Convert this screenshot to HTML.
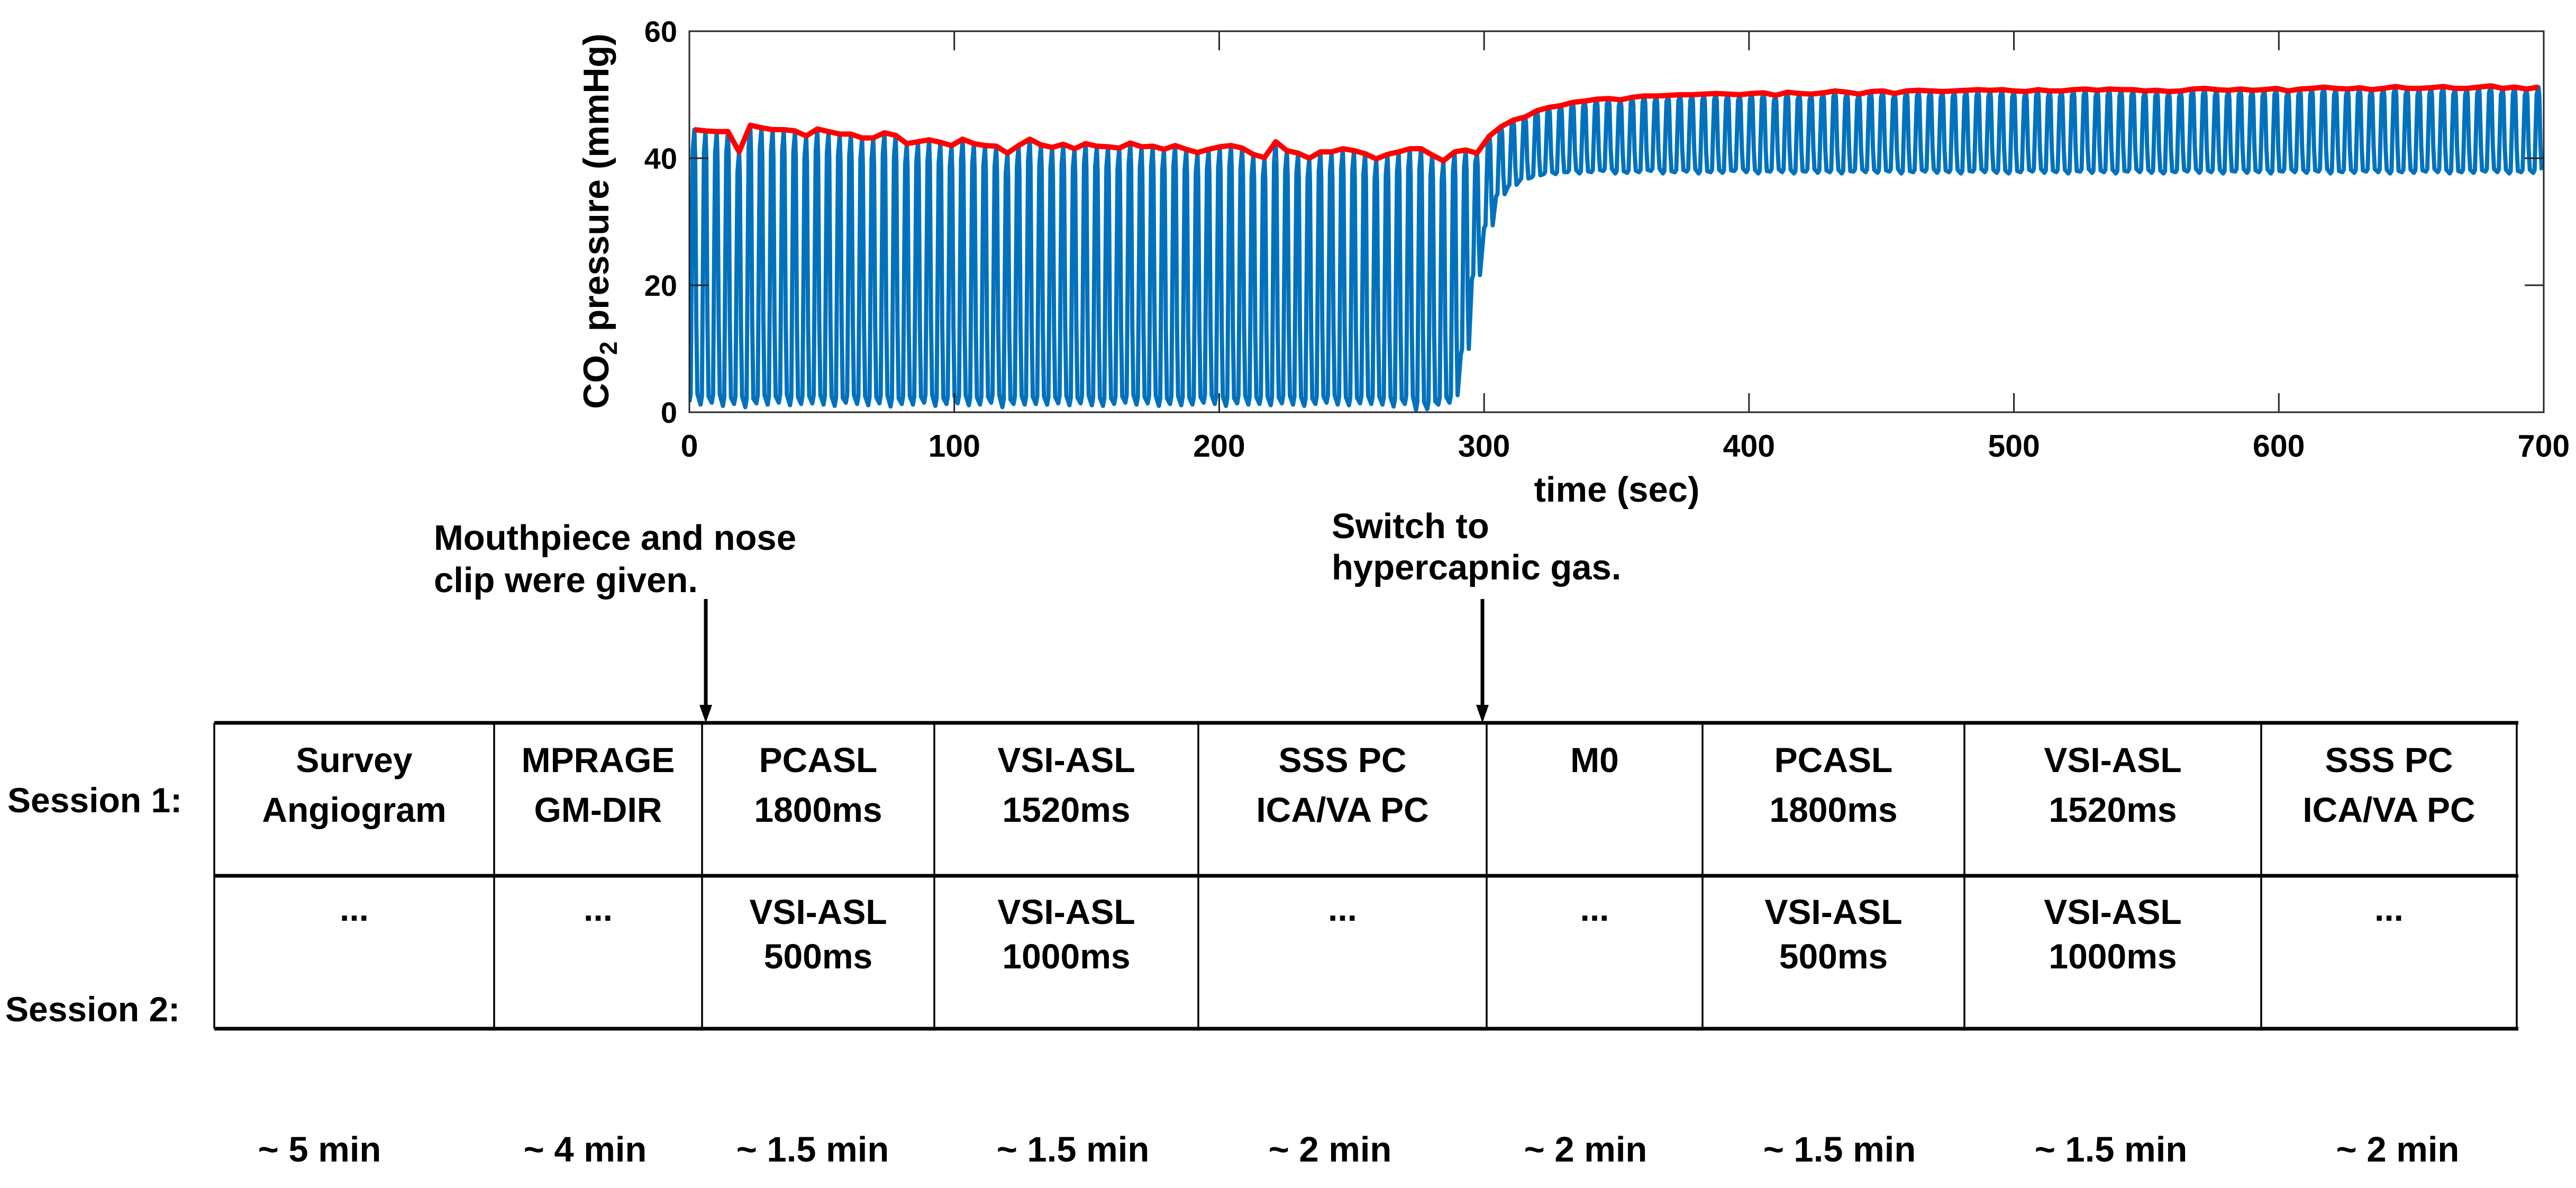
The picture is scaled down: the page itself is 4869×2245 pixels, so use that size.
<!DOCTYPE html>
<html><head><meta charset="utf-8"><style>
html,body{margin:0;padding:0;background:#fff}
svg{display:block}
text{font-family:"Liberation Sans",Arial,sans-serif;font-weight:bold;fill:#000}
</style></head><body>
<svg id="fig" width="4869" height="2245" viewBox="0 0 4869 2245" xmlns="http://www.w3.org/2000/svg">
<defs><clipPath id="pc"><rect x="1303" y="59" width="3505" height="720"/></clipPath></defs>
<g id="chart"></g>
<g id="annot">
  <text x="820" y="1039" font-size="67">Mouthpiece and nose</text>
  <text x="820" y="1119" font-size="67">clip were given.</text>
  <line x1="1334" y1="1132" x2="1334" y2="1335" stroke="#000" stroke-width="7"/>
  <polygon points="1322,1332 1346,1332 1334,1366" fill="#000"/>
  <text x="2517" y="1017" font-size="67">Switch to</text>
  <text x="2517" y="1095" font-size="67">hypercapnic gas.</text>
  <line x1="2802" y1="1132" x2="2802" y2="1335" stroke="#000" stroke-width="7"/>
  <polygon points="2790,1332 2814,1332 2802,1366" fill="#000"/>
</g>
<g id="table"></g>
</svg>
<script>
// ---- chart data ----
const xTicks = [0,100,200,300,400,500,600,700];
const yTicks = [0,20,40,60];
const prePeriod = 4.22;
const postPeriod = 4.5;
const switchTime = 300;
const switchIndex = 71;
const peaks = [44.5,44.3,44.2,44.2,41,45.2,44.8,44.5,44.5,44.3,43.5,44.6,44.2,43.8,43.8,43.2,43.2,44.0,43.6,42.3,42.6,42.9,42.5,42.0,43.0,42.3,42.0,41.9,40.8,42.0,43.0,42.1,41.7,42.2,41.5,42.3,41.9,41.8,41.6,42.4,41.8,41.9,41.4,42.0,41.4,40.9,41.4,41.8,42.0,41.6,40.6,40.1,42.6,41.2,40.8,40.0,41.0,41.0,41.5,41.2,40.7,39.9,40.6,41.0,41.5,41.5,40.5,39.6,41.0,41.3,40.8,
43.5,45,46,46.5,47.5,48,48.3,48.8,49,49.3,49.4,49.2,49.6,49.8,49.8,49.9,50.0,50.0,50.1,50.2,50.1,50.0,50.2,50.3,49.9,50.4,50.2,50.1,50.3,50.6,50.4,50.1,50.5,50.6,50.2,50.6,50.7,50.6,50.5,50.6,50.7,50.8,50.7,50.8,50.6,50.5,50.8,50.6,50.6,50.8,50.9,50.7,50.9,50.8,50.8,50.6,50.7,50.5,50.6,50.9,51.0,50.8,50.7,50.9,50.7,50.8,51.0,50.6,50.9,51.0,51.2,51.0,50.9,51.1,50.8,51.0,51.3,51.0,51.0,51.1,51.3,51.0,51.0,51.2,51.4,51.0,51.2,50.9,51.2];
const troughs = [1.6,1.2,1.5,1.0,1.3,0.8,1.4,1.2,1.5,1.1,1.3,1.4,1.2,1.0,1.5,1.3,1.1,1.4,0.9,1.3,1.2,1.5,1.0,1.3,1.4,1.1,1.2,1.5,0.8,1.3,1.2,1.3,1.2,1.4,1.1,1.4,1.1,1.0,1.3,1.5,1.2,1.4,1.0,1.3,1.1,1.2,1.5,1.3,1.0,1.4,1.2,1.3,1.1,1.4,1.2,1.0,1.3,1.5,1.2,1.1,1.4,1.3,1.2,0.9,1.3,0.4,0.5,1.2,1.5,9,21,
29,34,35.5,36.5,37,37.5,37.5,37.8,37.6,37.8,38,37.6,37.7,37.8,38,37.6,37.8,37.9,37.6,37.8,37.7,38,37.8,37.6,37.9,37.8,37.6,37.9,37.7,37.8,37.6,37.9,37.8,37.7,37.9,37.6,37.8,37.9,37.7,37.8,37.6,37.9,37.8,37.7,37.6,37.8,37.9,37.7,37.8,37.6,37.9,37.7,37.8,37.6,37.9,37.8,37.7,37.6,37.8,37.9,37.7,37.8,37.6,37.9,37.7,37.8,37.6,37.9,37.8,37.7,37.9,37.6,37.8,37.7,37.9,37.8,37.6,37.8,37.7,37.9,37.8,37.6,37.8,37.7,37.9,37.8,37.6,37.8,37.7];
// ---- table data ----
const colEdges = [405,934,1327,1766,2265,2810,3218,3713,4274,4757];
const session1 = [["Survey","Angiogram"],["MPRAGE","GM-DIR"],["PCASL","1800ms"],["VSI-ASL","1520ms"],["SSS PC","ICA/VA PC"],["M0"],["PCASL","1800ms"],["VSI-ASL","1520ms"],["SSS PC","ICA/VA PC"]];
const session2 = [["..."],["..."],["VSI-ASL","500ms"],["VSI-ASL","1000ms"],["..."],["..."],["VSI-ASL","500ms"],["VSI-ASL","1000ms"],["..."]];
const durations = ["~ 5 min","~ 4 min","~ 1.5 min","~ 1.5 min","~ 2 min","~ 2 min","~ 1.5 min","~ 1.5 min","~ 2 min"];
const durationX = [604,1106,1536,2028,2514,2997,3477,3990,4532];

const NS="http://www.w3.org/2000/svg";
function mk(tag, attrs, parent){const e=document.createElementNS(NS,tag);for(const k in attrs)e.setAttribute(k,attrs[k]);parent.appendChild(e);return e;}
const L=1303,R=4808,T=59,B=779;
const xs=v=>L+(v/700)*(R-L);
const ys=v=>B-(v/60)*(B-T);
const chart=document.getElementById('chart');
function breathStart(i){return i<switchIndex ? i*prePeriod : switchTime+(i-switchIndex)*postPeriod;}
function breathLen(i){return i<switchIndex ? prePeriod : postPeriod;}

// blue waveform
const n=Math.min(peaks.length,troughs.length);
let d=[];
for(let i=0;i<n;i++){
  const t0=breathStart(i), P=breathLen(i);
  const tr=troughs[i], pk=peaks[i];
  const pts=[[t0,tr],[t0+0.12*P,tr+0.03*(pk-tr)],[t0+0.22*P,tr+0.55*(pk-tr)],[t0+0.30*P,tr+0.92*(pk-tr)],[t0+0.45*P,pk],[t0+0.52*P,tr+0.9*(pk-tr)],[t0+0.62*P,tr+0.3*(pk-tr)],[t0+0.72*P,tr+0.03*(pk-tr)]];
  pts.forEach(p=>{ if(p[0]<=700) d.push((d.length?'L':'M')+xs(p[0]).toFixed(1)+','+ys(p[1]).toFixed(1)); });
}
const blue=mk('path',{d:d.join(''),fill:'none',stroke:'#0072BD','stroke-width':8,'stroke-linejoin':'round','clip-path':'url(#pc)'},chart);


// red envelope
let rd=[];
for(let i=0;i<n;i++){const t=breathStart(i)+0.45*breathLen(i); if(t<=700) rd.push((rd.length?'L':'M')+xs(t).toFixed(1)+','+ys(peaks[i]).toFixed(1));}
const red=mk('path',{d:rd.join(''),fill:'none',stroke:'#FF0000','stroke-width':10,'stroke-linejoin':'round','clip-path':'url(#pc)'},chart);


// axes box
const box=mk('rect',{x:L,y:T,width:R-L,height:B-T,fill:'none',stroke:'#262626','stroke-width':3},chart);


xTicks.forEach(v=>{
  const x=xs(v);
  mk('line',{x1:x,y1:B,x2:x,y2:B-36,stroke:'#262626','stroke-width':3},chart);
  mk('line',{x1:x,y1:T,x2:x,y2:T+36,stroke:'#262626','stroke-width':3},chart);
  const tl=mk('text',{x:x,y:863,'font-size':59,'text-anchor':'middle',fill:'#262626'},chart);
  tl.textContent=v;
  
  
});
yTicks.forEach(v=>{
  const y=ys(v);
  mk('line',{x1:L,y1:y,x2:L+36,y2:y,stroke:'#262626','stroke-width':3},chart);
  mk('line',{x1:R,y1:y,x2:R-36,y2:y,stroke:'#262626','stroke-width':3},chart);
  const tl=mk('text',{x:1280,y:y+20,'font-size':56,'text-anchor':'end',fill:'#262626'},chart);
  tl.textContent=v;
  
  
});
const xt=mk('text',{x:3056,y:948,'font-size':67,'text-anchor':'middle',fill:'#262626'},chart);
xt.textContent='time (sec)';


const yt=mk('text',{x:0,y:0,'font-size':68,'text-anchor':'middle',fill:'#262626',transform:'translate(1150,418) rotate(-90)'},chart);
yt.innerHTML='CO<tspan font-size="46" dy="16">2</tspan><tspan dy="-16"> pressure (mmHg)</tspan>';



// table
const tb=document.getElementById('table');
const TT=1366,TM=1655,TB=1944;
const grid=mk('g',{},tb);


mk('line',{x1:405,y1:TT,x2:4760,y2:TT,stroke:'#000','stroke-width':7},grid);
mk('line',{x1:405,y1:TM,x2:4760,y2:TM,stroke:'#000','stroke-width':7},grid);
mk('line',{x1:405,y1:TB,x2:4760,y2:TB,stroke:'#000','stroke-width':7},grid);
colEdges.forEach(x=>mk('line',{x1:x,y1:TT,x2:x,y2:TB,stroke:'#000','stroke-width':3.5},grid));
for(let i=0;i<session1.length;i++){
  const cx=(colEdges[i]+colEdges[i+1])/2;
  session1[i].forEach((s,j)=>{
    const t=mk('text',{x:cx,y:1459+j*94,'font-size':66,'text-anchor':'middle'},tb);
    t.textContent=s;
    
    
  });
  session2[i].forEach((s,j)=>{
    const t=mk('text',{x:cx,y:(s==='...'?1740:1746)+j*84,'font-size':66,'text-anchor':'middle'},tb);
    t.textContent=s;
    
    
  });
  const dt=mk('text',{x:durationX[i],y:2195,'font-size':67,'text-anchor':'middle'},tb);
  dt.textContent=durations[i];
  
  
}
const s1=mk('text',{x:14,y:1535,'font-size':66},tb);
s1.textContent='Session 1:';


const s2=mk('text',{x:10,y:1930,'font-size':66},tb);
s2.textContent='Session 2:';


</script>
</body></html>
